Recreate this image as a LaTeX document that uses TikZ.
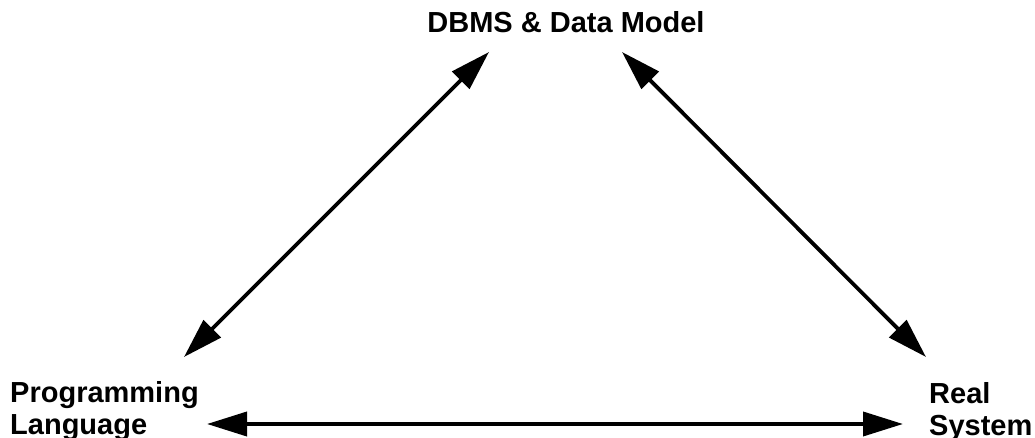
\documentclass[tikz,border=0pt]{standalone}
\usepackage{fontspec}
\setmainfont{Liberation Sans}
\usetikzlibrary{arrows.meta}
\begin{document}
\begin{tikzpicture}[x=1pt,y=-1pt,
  lbl/.style={font=\bfseries\fontsize{29}{32}\selectfont, inner sep=0pt, align=left},
  link/.style={line width=3.8pt, {Triangle[length=40pt,width=24pt]}-{Triangle[length=40pt,width=24pt]}}]
\useasboundingbox (0,0) rectangle (1035,438);
\node[lbl, anchor=base] (db) at (566,33) {DBMS \& Data Model};
\node[lbl, anchor=north west] (pl) at (10,381) {Programming\\Language};
\node[lbl, anchor=north west] (rs) at (929,382) {Real\\System};
\coordinate (db-l) at (489,52);
\coordinate (db-r) at (622,52);
\coordinate (pl-t) at (184,357);
\coordinate (pl-r) at (207,424);
\coordinate (rs-t) at (926,357);
\coordinate (rs-l) at (903,424);
\draw[link] (pl-t) -- (db-l);
\draw[link] (rs-t) -- (db-r);
\draw[link] (pl-r) -- (rs-l);
\end{tikzpicture}
\end{document}
